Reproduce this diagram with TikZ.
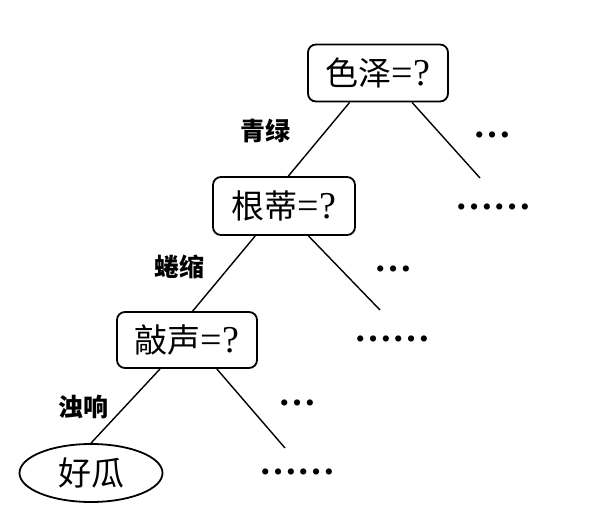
\documentclass[tikz,border=0pt]{standalone}
\usepackage{fontspec}
\setmainfont{Liberation Serif}
\newfontfamily\cjk{Noto Sans CJK SC}
\usetikzlibrary{shapes.geometric,calc}
\newcommand{\qm}{{\fontsize{38}{40}\selectfont =?}}
\tikzset{
  testbox/.style={draw,line width=1.8pt,rounded corners=8pt,minimum width=140pt,minimum height=57pt,inner sep=0pt,font=\fontsize{33}{40}\selectfont},
  leafnode/.style={draw,ellipse,line width=1.8pt,minimum width=143pt,minimum height=58pt,inner sep=0pt,font=\cjk\fontsize{33}{40}\selectfont},
  edgelabel/.style={font=\cjk\bfseries\fontsize{25}{30}\selectfont,inner sep=0pt},
  dots/.style={font=\bfseries\fontsize{38}{40}\selectfont,inner sep=0pt,anchor=base},
  branch/.style={line width=1.4pt}
}
\begin{document}
\begin{tikzpicture}[x=1pt,y=-1pt]
\useasboundingbox (0,0) rectangle (599,532);
\node[testbox] (b1) at (378,73) {{\cjk 色泽}\qm};
\node[testbox,minimum width=142pt,minimum height=58pt] (b2) at (284,206) {{\cjk 根蒂}\qm};
\node[testbox,minimum height=56pt] (b3) at (187,340) {{\cjk 敲声}\qm};
\node[leafnode] (g) at (91,473) {好瓜};
\coordinate (e1) at (480,178);
\coordinate (e2) at (380,310);
\coordinate (e3) at (285,448);
\draw[branch] ($(b1.south west)!0.3!(b1.south east)$) -- ($(b2.north west)!0.53!(b2.north east)$);
\draw[branch] ($(b1.south west)!0.74!(b1.south east)$) -- (e1);
\draw[branch] ($(b2.south west)!0.3!(b2.south east)$) -- ($(b3.north west)!0.54!(b3.north east)$);
\draw[branch] ($(b2.south west)!0.67!(b2.south east)$) -- (e2);
\draw[branch] ($(b3.south west)!0.31!(b3.south east)$) -- (g.north);
\draw[branch] ($(b3.south west)!0.71!(b3.south east)$) -- (e3);
\node[edgelabel] (l1) at (265,131) {青绿};
\node[edgelabel] (l2) at (179,267) {蜷缩};
\node[edgelabel] (l3) at (83,407) {浊响};
\node[dots] (d1) at (492,137) {…};
\node[dots] (d2) at (493,209) {……};
\node[dots] (d3) at (393,271) {…};
\node[dots] (d4) at (392,341) {……};
\node[dots] (d5) at (297,405) {…};
\node[dots] (d6) at (297,474) {……};
\end{tikzpicture}
\end{document}
